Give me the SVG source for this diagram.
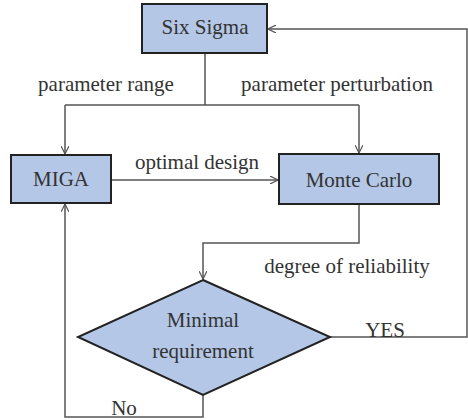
<svg xmlns="http://www.w3.org/2000/svg" width="468" height="420" viewBox="0 0 468 420">
<style>
.box{fill:#b4c7e7;stroke:#222;stroke-width:2}
.t{font-family:"Liberation Serif","Times New Roman",serif;font-size:21px;fill:#333;text-anchor:middle}
.c{fill:none;stroke:#555;stroke-width:1.5}
</style>
<defs>
<marker id="a" viewBox="0 0 10 10" refX="10" refY="5" markerWidth="8" markerHeight="8" markerUnits="userSpaceOnUse" orient="auto">
<path d="M0,0 L10,5 L0,10" fill="none" stroke="#555" stroke-width="1.5"/>
</marker>
</defs>
<rect width="468" height="420" fill="#fff"/>
<g id="connectors">
<path class="c" d="M205,53 V105"/>
<path class="c" d="M65,105 H359"/>
<path class="c" d="M65,105 V154" marker-end="url(#a)"/>
<path class="c" d="M359,105 V153" marker-end="url(#a)"/>
<path class="c" d="M111,180 H278" marker-end="url(#a)"/>
<path class="c" d="M359,204 V243 H203 V279" marker-end="url(#a)"/>
<path class="c" d="M330,337 H467 V29 H268" marker-end="url(#a)"/>
<path class="c" d="M203,395 V417 H65 V204" marker-end="url(#a)"/>
<text class="t" x="106" y="91">parameter range</text>
<text class="t" x="337" y="91">parameter perturbation</text>
<text class="t" x="197" y="169">optimal design</text>
<text class="t" x="347" y="273">degree of reliability</text>
<text class="t" x="385" y="337">YES</text>
<text class="t" x="124" y="415">No</text>
</g>
<g id="six-sigma">
<rect class="box" x="142" y="4" width="125" height="49"/>
<text class="t" x="205" y="34">Six Sigma</text>
</g>
<g id="miga">
<rect class="box" x="11" y="155" width="100" height="48"/>
<text class="t" x="61" y="186">MIGA</text>
</g>
<g id="monte-carlo">
<rect class="box" x="279" y="154" width="160" height="50"/>
<text class="t" x="359" y="187">Monte Carlo</text>
</g>
<g id="minimal-requirement">
<polygon class="box" points="203,280 330,337 203,395 78,337"/>
<text class="t" x="203" y="327">Minimal</text>
<text class="t" x="203" y="358">requirement</text>
</g>
</svg>
